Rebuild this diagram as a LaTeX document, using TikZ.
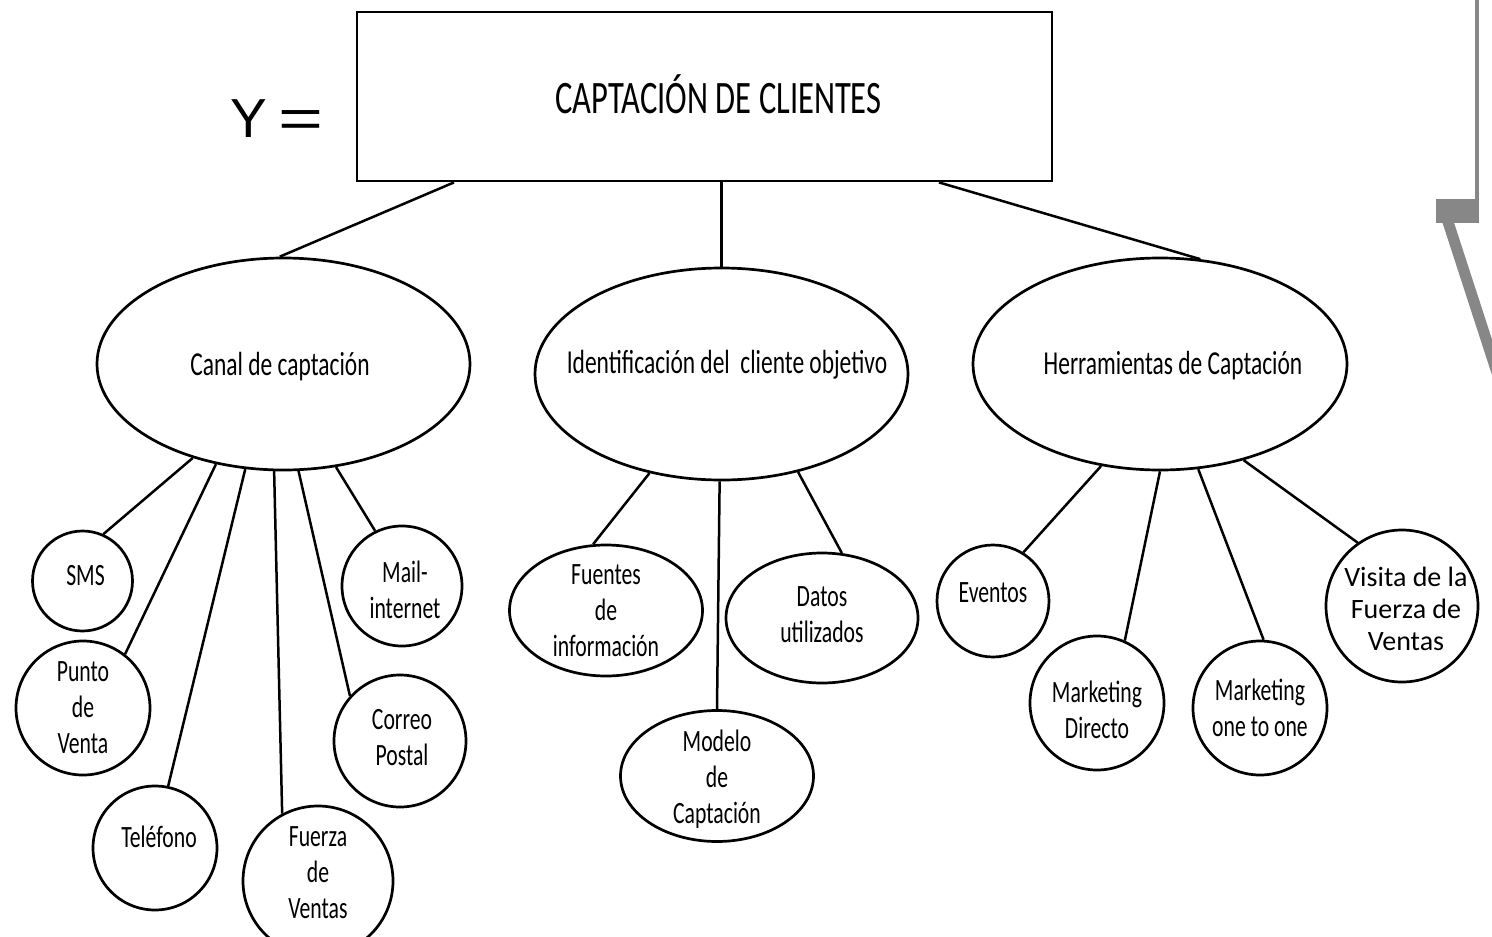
\documentclass[tikz,border=0pt]{standalone}
\usepackage{fontspec}
\usepackage{graphicx}
\setmainfont{Carlito}
\newfontfamily\cond[FakeStretch=0.7]{Carlito}
\newfontfamily\arialf{Liberation Sans}
\usetikzlibrary{shapes.geometric,calc}
\definecolor{grayshape}{RGB}{135,135,135}
\tikzset{
  ell/.style={ellipse, draw, line width=2.7pt, inner sep=0pt},
  circ/.style={circle, draw, line width=2.7pt, inner sep=0pt},
  conn/.style={line width=2.5pt},
  ctxt/.style={font=\cond\fontsize{31}{36}\selectfont, align=center, inner sep=0pt},
  etxt/.style={font=\cond\fontsize{33.5}{40}\selectfont, inner sep=0pt},
  ttxt/.style={font=\cond\fontsize{46.5}{50}\selectfont, inner sep=0pt},
  vtxt/.style={font=\fontsize{28}{32}\selectfont, align=center, inner sep=0pt},
}
\begin{document}
\begin{tikzpicture}[x=1pt,y=-1pt]
\useasboundingbox (0,0) rectangle (1492,937);
\clip (0,0) rectangle (1492,937);
\fill[white] (0,0) rectangle (1492,937);

% gray decoration at the right edge
\draw[grayshape, line width=3.5pt] (1477.2,-5) -- (1477.2,205);
\draw[grayshape, line width=11pt] (1442.5,205) -- (1512.4,420);
\draw[grayshape, line width=24pt] (1436,211) -- (1479,211);

% Y =
\node[font=\arialf\fontsize{55}{60}\selectfont, inner sep=0pt] (yeq) at (277,118.5) {Y\hspace{12pt}\scalebox{1.4}[1]{=}};

% main box
\node[draw, line width=2.8pt, rectangle, minimum width=695pt, minimum height=169pt, inner sep=0pt,
      label={[ttxt,xshift=14pt,yshift=2pt]center:CAPTACIÓN DE CLIENTES}] (box) at (704.5,96.5) {};

% level-1 ellipses
\node[ell, minimum width=373pt, minimum height=212pt,
      label={[etxt,xshift=-3.5pt,yshift=-3pt]center:Canal de captación}] (canal) at (283.5,364) {};
\node[ell, minimum width=373pt, minimum height=212pt,
      label={[etxt,xshift=5.5pt,yshift=9pt]center:Identificación del\ \ cliente objetivo}] (ident) at (721.5,374) {};
\node[ell, minimum width=374pt, minimum height=212pt,
      label={[etxt,xshift=13pt,yshift=-2pt]center:Herramientas de Captación}] (herr) at (1160,364) {};

% children of Canal
\node[circ, minimum size=100pt, label={[ctxt,xshift=3pt,yshift=5pt]center:SMS}] (sms) at (82.5,581) {};
\node[circ, minimum size=134pt, label={[ctxt]center:Punto\\de\\Venta}] (punto) at (83,708) {};
\node[circ, minimum size=124pt, label={[ctxt,xshift=4pt,yshift=11pt]center:Teléfono}] (tel) at (155,848) {};
\node[circ, minimum size=150pt, label={[ctxt,yshift=8pt]center:Fuerza\\de\\Ventas}] (fuerza) at (318,881) {};
\node[circ, minimum size=132pt, label={[ctxt,xshift=2pt,yshift=3.5pt]center:Correo\\Postal}] (correo) at (400,741) {};
\node[circ, minimum size=120pt, label={[ctxt,xshift=3pt,yshift=-4pt]center:Mail-\\internet}] (mail) at (402,586) {};

% children of Identificacion
\node[ell, minimum width=193pt, minimum height=131pt, label={[ctxt]center:Fuentes\\de\\información}] (fuentes) at (606,610.5) {};
\node[ell, minimum width=192pt, minimum height=130pt, label={[ctxt,yshift=3.5pt]center:Datos\\utilizados}] (datos) at (822,618) {};
\node[ell, minimum width=193pt, minimum height=131pt, label={[ctxt,yshift=-3pt]center:Modelo\\de\\Captación}] (modelo) at (717,776) {};

% children of Herramientas
\node[circ, minimum size=112pt, label={[ctxt,yshift=8pt]center:Eventos}] (eventos) at (993,601) {};
\node[circ, minimum size=134pt, label={[ctxt,yshift=-6.5pt]center:Marketing\\Directo}] (mdir) at (1097,703) {};
\node[circ, minimum size=134pt, label={[ctxt]center:Marketing\\one to one}] (mone) at (1260,708) {};
\node[circ, minimum size=152pt, label={[vtxt,xshift=4pt,yshift=-3pt]center:Visita de la\\Fuerza de\\Ventas}] (visita) at (1402,606) {};

% connectors from the box
\draw[conn] ($(box.south west)!0.141!(box.south east)$) -- (canal.92);
\draw[conn] (ident.north) -- (ident.north |- box.south);
\draw[conn] ($(box.south west)!0.836!(box.south east)$) -- (herr.69);

% connectors of Canal
\draw[conn] (canal.-134.2) -- (sms.66);
\draw[conn] (canal.-124.5) -- (punto.52);
\draw[conn] (canal.-110.8) -- (tel.78);
\draw[conn] (canal.-95.5) -- (fuerza.118);
\draw[conn] (canal.-82.5) -- (correo.138);
\draw[conn] (canal.-63) -- (mail.116);

% connectors of Identificacion
\draw[conn] (ident.-126.6) -- (fuentes.101.7);
\draw[conn] (ident.-91) -- (modelo.north);
\draw[conn] (ident.-52.4) -- (datos.73.7);

% connectors of Herramientas
\draw[conn] (herr.-120.4) -- (eventos.58.5);
\draw[conn] (herr.-90.5) -- (mdir.66.9);
\draw[conn] (herr.-70.4) -- (mone.87);
\draw[conn] (herr.-49.2) -- (visita.125.5);
\end{tikzpicture}
\end{document}
